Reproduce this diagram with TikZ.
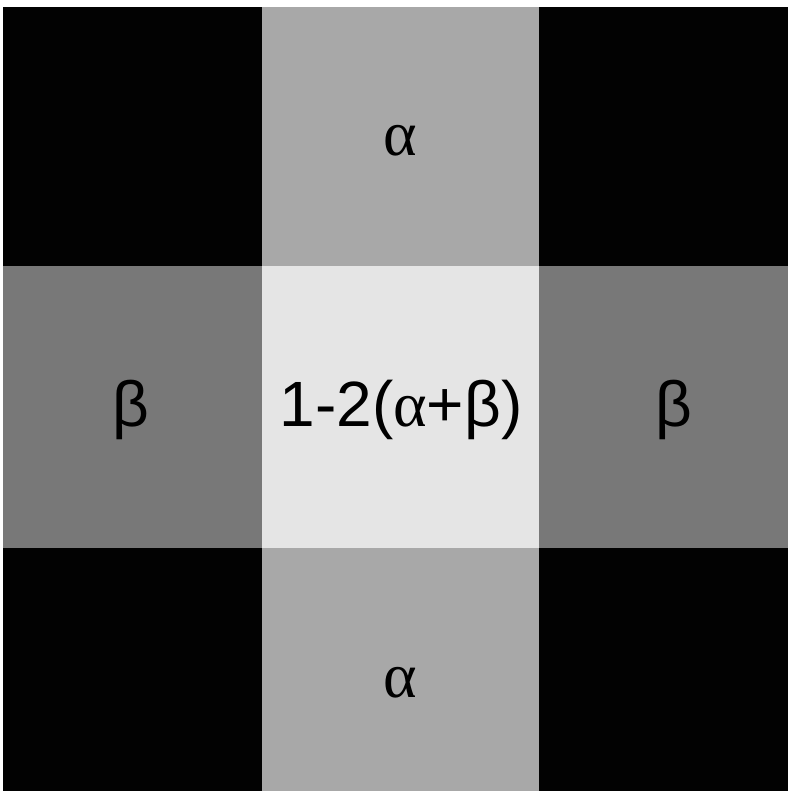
\documentclass[tikz,border=0pt]{standalone}
\usepackage{fontspec}
\setmainfont{Liberation Sans}
\newfontfamily\greekfont{Liberation Serif}
\definecolor{cblack}{RGB}{2,2,2}
\definecolor{calpha}{RGB}{168,168,168}
\definecolor{cbeta}{RGB}{120,120,120}
\definecolor{ccenter}{RGB}{229,229,229}
\tikzset{cell/.style={inner sep=0pt, outer sep=0pt, draw=none},
  lab/.style={font=\fontsize{64}{70}\selectfont, text=black}}
\begin{document}
\begin{tikzpicture}[x=1pt,y=1pt]
\useasboundingbox (0,0) rectangle (788,793);
\fill[white] (0,0) rectangle (788,793);
% columns: 3-262, 262-539, 539-788 ; rows (image y): 7-266, 266-548, 548-791
\fill[cblack] (3,527) rectangle (262,786);
\fill[calpha] (262,527) rectangle (539,786);
\fill[cblack] (539,527) rectangle (788,786);
\fill[cbeta] (3,245) rectangle (262,527);
\fill[ccenter] (262,245) rectangle (539,527);
\fill[cbeta] (539,245) rectangle (788,527);
\fill[cblack] (3,2) rectangle (262,245);
\fill[calpha] (262,2) rectangle (539,245);
\fill[cblack] (539,2) rectangle (788,245);
\node[lab] (atop) at (400,652) {\greekfont α};
\node[lab] (bleft) at (131,383) {β};
\node[lab] (center) at (401,383) {1-2(\greekfont α\rmfamily+β)};
\node[lab] (bright) at (674,383) {β};
\node[lab] (abot) at (400,110) {\greekfont α};
\end{tikzpicture}
\end{document}
